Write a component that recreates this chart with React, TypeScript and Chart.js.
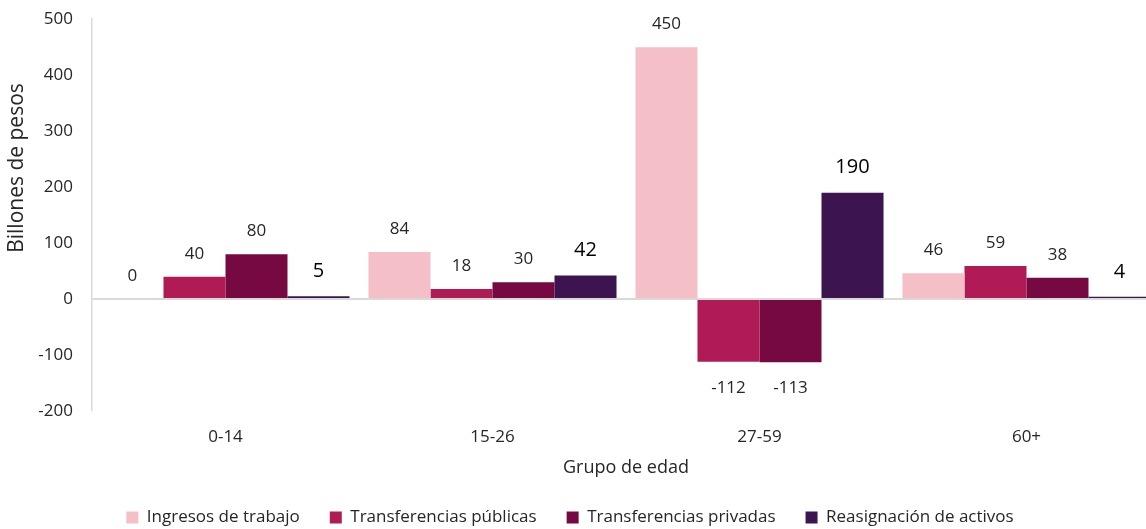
import React, { useEffect, useRef } from 'react';
import { Chart, registerables } from 'chart.js';

Chart.register(...registerables);

const categories = ['0-14', '15-26', '27-59', '60+'];
const seriesNames = [
  'Ingresos de trabajo',
  'Transferencias públicas',
  'Transferencias privadas',
  'Reasignación de activos',
];
const ingresosTrabajo = [0, 84, 450, 46];
const transferenciasPublicas = [40, 18, -112, 59];
const transferenciasPrivadas = [80, 30, -113, 38];
const reasignacionActivos = [5, 42, 190, 4];
const seriesColors = ['#F4BFC6', '#B01A55', '#760842', '#3B1450'];
const yTicks = [-200, -100, 0, 100, 200, 300, 400, 500];
const yTitle = 'Billones de pesos';
const xTitle = 'Grupo de edad';

const FONT = "'Open Sans', 'Noto Sans', sans-serif";
const TEXT = '#262626';
const AXIS = '#d9d9d9';

const valueLabels = {
  id: 'valueLabels',
  afterDatasetsDraw(chart: any) {
    const ctx = chart.ctx;
    ctx.save();
    ctx.textAlign = 'center';
    ctx.textBaseline = 'middle';
    chart.data.datasets.forEach((ds: any, i: number) => {
      const meta = chart.getDatasetMeta(i);
      const big = i === 3;
      ctx.font = `${big ? 20 : 17}px ${FONT}`;
      ctx.fillStyle = big ? '#000000' : TEXT;
      meta.data.forEach((bar: any, j: number) => {
        const v = ds.data[j];
        const y = v >= 0 ? bar.y - (big ? 25 : 23) : bar.y + 26;
        ctx.fillText(String(v), bar.x, y);
      });
    });
    ctx.restore();
  },
};

const yTitlePlugin = {
  id: 'yTitlePlugin',
  afterDraw(chart: any) {
    const ctx = chart.ctx;
    ctx.save();
    ctx.translate(17, 168);
    ctx.rotate(-Math.PI / 2);
    ctx.font = `21px ${FONT}`;
    ctx.fillStyle = TEXT;
    ctx.textAlign = 'center';
    ctx.textBaseline = 'middle';
    ctx.fillText(yTitle, 0, 0);
    ctx.restore();
  },
};

const legendShift = {
  id: 'legendShift',
  afterLayout(chart: any) {
    const lg = chart.legend;
    if (lg) {
      lg.left -= 10;
      lg.right -= 10;
    }
  },
};

export default function App() {
  const ref = useRef<HTMLCanvasElement | null>(null);

  useEffect(() => {
    if (!ref.current) return;
    const chart = new Chart(ref.current, {
      type: 'bar',
      data: {
        labels: categories,
        datasets: [ingresosTrabajo, transferenciasPublicas, transferenciasPrivadas, reasignacionActivos].map(
          (d, i) => ({
            label: seriesNames[i],
            data: d,
            backgroundColor: seriesColors[i],
            borderWidth: 0,
            categoryPercentage: 0.929,
            barPercentage: 1,
          })
        ),
      },
      options: {
        responsive: false,
        animation: false,
        layout: { padding: { top: 11, left: 0, right: 0, bottom: -7 } },
        font: { family: FONT },
        plugins: {
          tooltip: { enabled: false },
          legend: {
            position: 'bottom',
            labels: {
              boxWidth: 12,
              boxHeight: 12,
              padding: 30,
              color: TEXT,
              font: { size: 17, family: FONT },
            },
          },
        },
        scales: {
          x: {
            grid: { display: false, drawTicks: false },
            border: { display: false },
            ticks: { color: TEXT, padding: 16, font: { size: 17, family: FONT } },
            title: {
              display: true,
              text: xTitle,
              color: TEXT,
              font: { size: 18, family: FONT },
              padding: { top: 0, bottom: 0 },
            },
            afterFit: (s: any) => {
              s.height = 68;
            },
          },
          y: {
            min: yTicks[0],
            max: yTicks[yTicks.length - 1],
            ticks: {
              stepSize: 100,
              color: TEXT,
              padding: 9,
              font: { size: 17, family: FONT },
            },
            grid: {
              drawTicks: true,
              tickLength: 10,
              tickColor: 'rgba(0,0,0,0)',
              color: (c: any) => (c.tick && c.tick.value === 0 ? AXIS : 'rgba(0,0,0,0)'),
              lineWidth: (c: any) => (c.tick && c.tick.value === 0 ? 2 : 0),
            },
            border: { display: true, color: AXIS, width: 1.5 },
            afterFit: (s: any) => {
              s.width = 92;
            },
          },
        },
      },
      plugins: [valueLabels, yTitlePlugin, legendShift],
    });
    return () => chart.destroy();
  }, []);

  return (
    <div
      style={{
        position: 'fixed',
        left: 0,
        top: 0,
        width: 1146,
        height: 529,
        overflow: 'hidden',
        background: '#ffffff',
      }}
    >
      <canvas ref={ref} width={1160} height={529} style={{ display: 'block' }} />
    </div>
  );
}
